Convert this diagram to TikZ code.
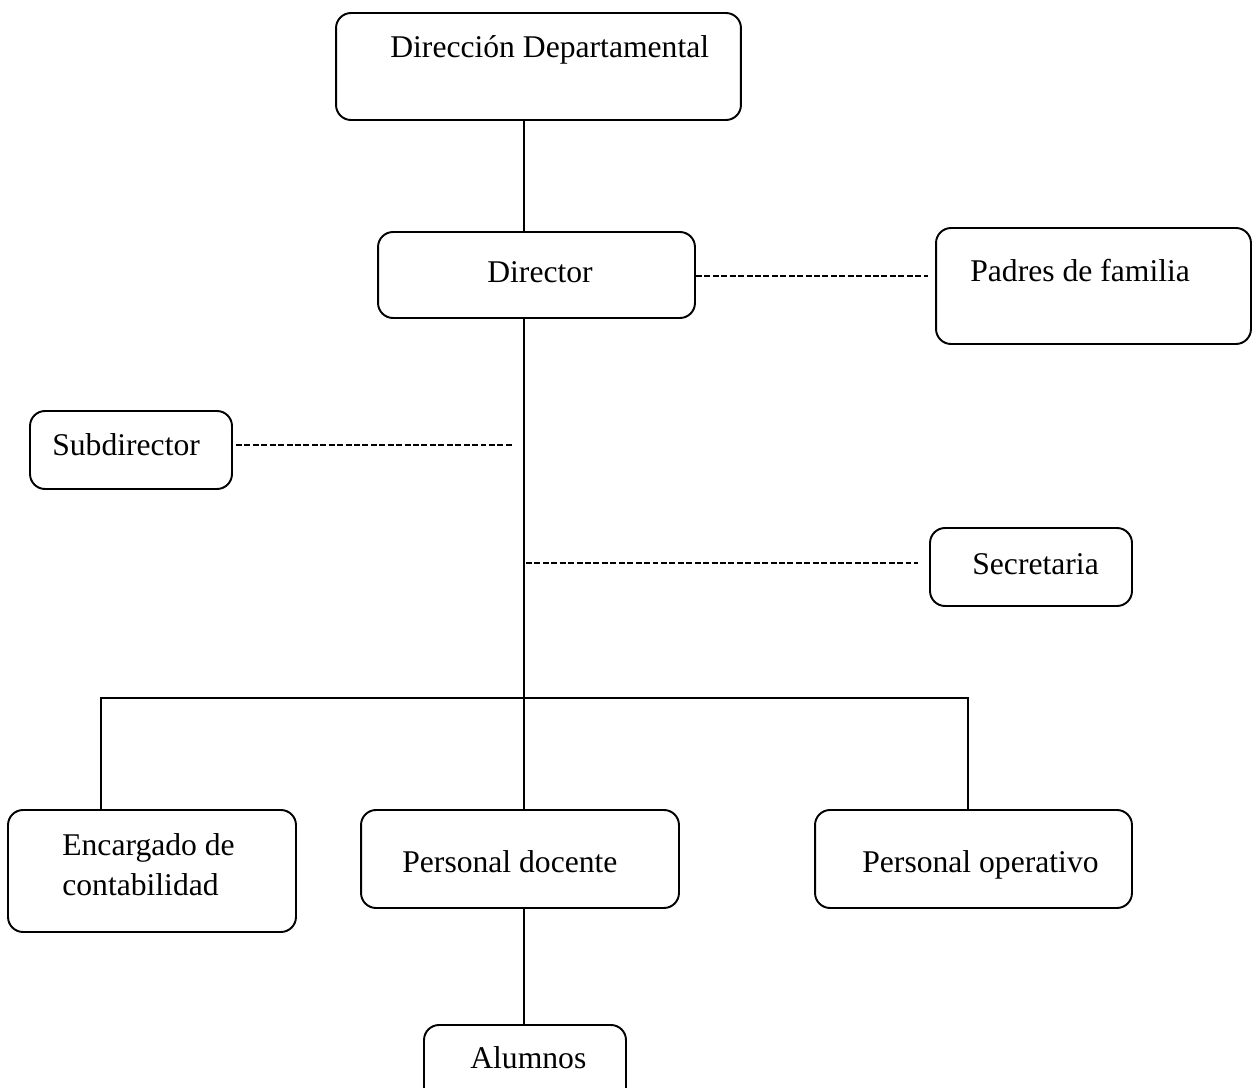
\documentclass[tikz,border=0pt]{standalone}
\usepackage{fontspec}
\setmainfont{Liberation Serif}
\begin{document}
\begin{tikzpicture}[x=0.02cm,y=0.02cm,
  box/.style={draw, line width=1.1pt, rounded corners=0.3cm, inner sep=0pt},
  txt/.style={inner sep=0pt, anchor=base west, font=\fontsize{18}{22.7}\selectfont, align=left},
  conn/.style={line width=1.1pt},
  dconn/.style={line width=1.1pt, dash pattern=on 3.4pt off 1.4pt}]
\useasboundingbox (0,0) rectangle (1252,-1088);
\clip (0,0) rectangle (1252,-1088);
% boxes
\node[box, minimum width=8.1cm, minimum height=2.14cm] (dd) at (538.5,-66.5) {};
\node[box, minimum width=6.34cm, minimum height=1.72cm] (dir) at (536.5,-275) {};
\node[box, minimum width=6.3cm, minimum height=2.32cm] (pad) at (1093.5,-286) {};
\node[box, minimum width=4.04cm, minimum height=1.56cm] (sub) at (131,-450) {};
\node[box, minimum width=4.04cm, minimum height=1.56cm] (sec) at (1031,-567) {};
\node[box, minimum width=5.76cm, minimum height=2.44cm] (enc) at (152,-871) {};
\node[box, minimum width=6.36cm, minimum height=1.96cm] (doc) at (520,-859) {};
\node[box, minimum width=6.34cm, minimum height=1.96cm] (ope) at (973.5,-859) {};
\node[box, minimum width=4.04cm, minimum height=2.0cm] (alu) at (525,-1075) {};
% texts
\node[txt] (tdd) at (390,-58) {Dirección Departamental};
\node[txt] (tdir) at (487,-282) {Director};
\node[txt] (tpad) at (970,-281) {Padres de familia};
\node[txt] (tsub) at (52,-455) {Subdirector};
\node[txt] (tsec) at (972,-574) {Secretaria};
\node[txt] (tenc) at (62,-895) {Encargado de\\contabilidad};
\node[txt] (tdoc) at (402,-872) {Personal docente};
\node[txt] (tope) at (862,-872) {Personal operativo};
\node[txt] (talu) at (470,-1068) {Alumnos};
% coordinates
\coordinate (trunk) at (524,0);
\coordinate (busL) at (101,-698);
\coordinate (busR) at (968,-698);
\coordinate (subend) at (513,-445);
\coordinate (secstart) at (526,-563);
\coordinate (secend) at (918,-563);
\coordinate (padend) at (928,-276);
% connectors
\draw[conn] (dd.south -| trunk) -- (dir.north -| trunk);
\draw[conn] (dir.south -| trunk) -- (doc.north -| trunk);
\draw[conn] (enc.north -| busL) -- (busL) -- (busR) -- (ope.north -| busR);
\draw[conn] (doc.south -| trunk) -- (alu.north -| trunk);
\draw[dconn] (dir.east |- padend) -- (padend);
\draw[dconn] ([xshift=0.06cm]sub.east |- subend) -- (subend);
\draw[dconn] (secstart) -- (secend);
\end{tikzpicture}
\end{document}
